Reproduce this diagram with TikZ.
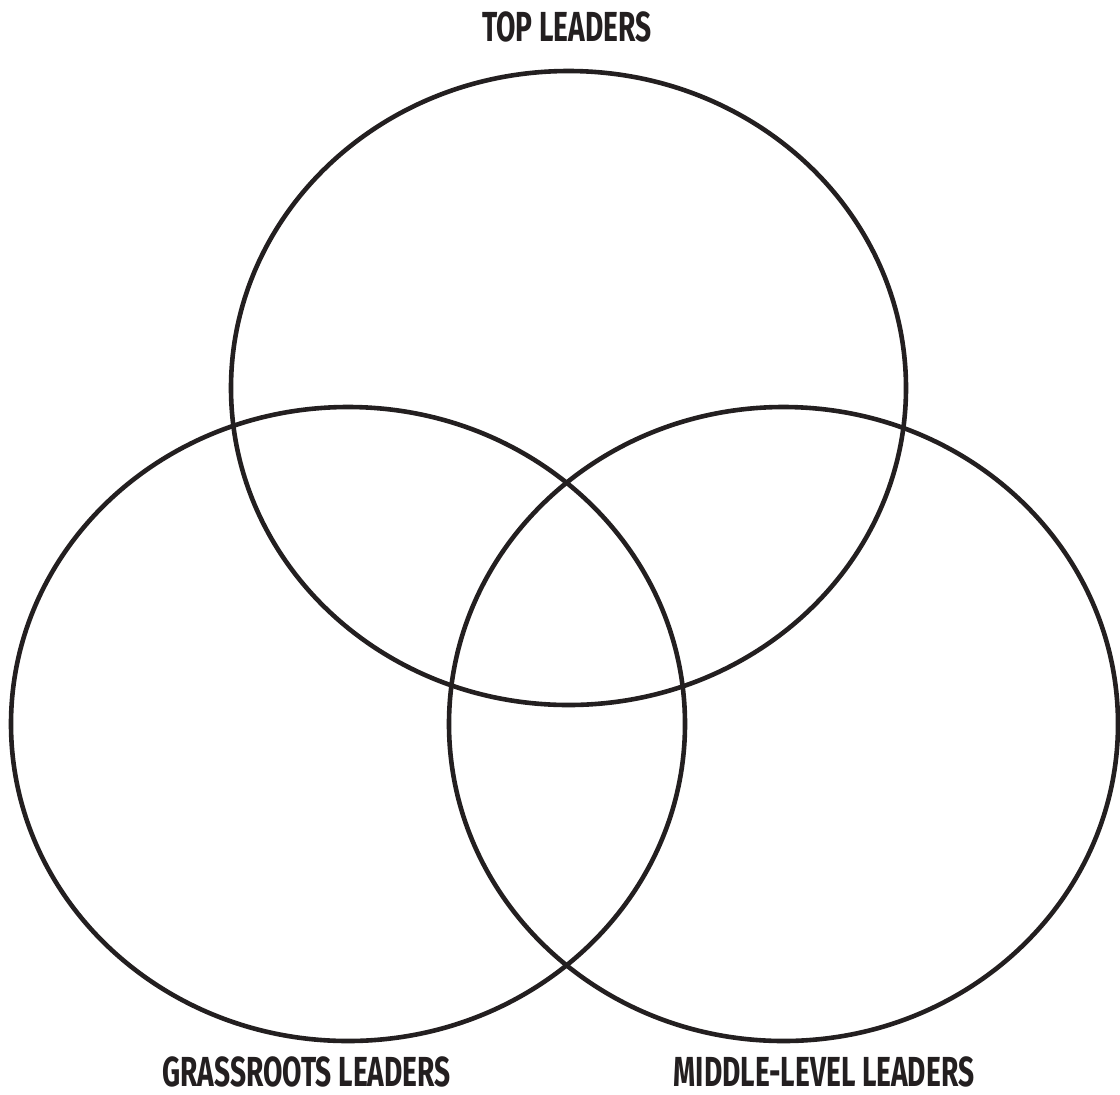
\documentclass[tikz,border=0pt]{standalone}
\usepackage{fontspec}
\setmainfont{Fira Sans}[FakeStretch=0.67]
\usepackage{tikz}
\definecolor{VennInk}{HTML}{231F20}

\begin{document}
\begin{tikzpicture}[x=0.5pt,y=-0.5pt,font=\bfseries\fontsize{21}{23}\selectfont]
\useasboundingbox (0,0) rectangle (1120,1094);
\tikzset{ring/.style={draw=VennInk,line width=2.3pt},
 lbl/.style={text=VennInk,inner sep=0pt,anchor=base}}
\draw[ring] (568.5,388) ellipse[x radius=337.5,y radius=317];
\draw[ring] (348,724) ellipse[x radius=337,y radius=317];
\draw[ring] (783.5,724) ellipse[x radius=334.5,y radius=317];
\node[lbl] (top) at (567,41) {TOP LEADERS};
\node[lbl] (grass) at (306.5,1086) {GRASSROOTS LEADERS};
\node[lbl] (middle) at (824,1086) {MIDDLE-LEVEL LEADERS};
\end{tikzpicture}
\end{document}
